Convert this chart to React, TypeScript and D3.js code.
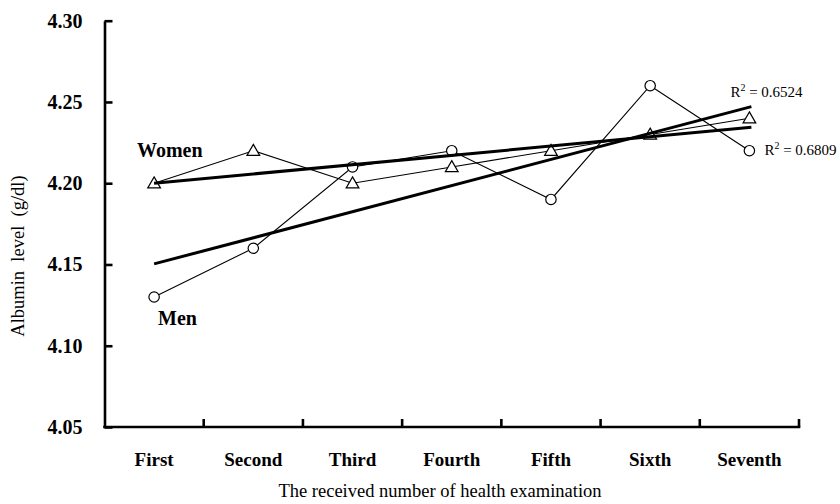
import React, { useEffect, useRef } from "react";
import * as d3 from "d3";

// examination rounds
const categories = ["First", "Second", "Third", "Fourth", "Fifth", "Sixth", "Seventh"];

// mean albumin level (g/dl)
const menValues = [4.13, 4.16, 4.21, 4.22, 4.19, 4.26, 4.22];
const womenValues = [4.2, 4.22, 4.2, 4.21, 4.22, 4.23, 4.24];

const yTicks = [4.05, 4.1, 4.15, 4.2, 4.25, 4.3];

const menR2 = "0.6524";
const womenR2 = "0.6809";

const FONT = "'Liberation Serif', 'Times New Roman', serif";

// least squares fit over the category index (1..n)
const fitLine = (values: number[]) => {
  const xs = values.map((_, i) => i + 1);
  const mx = d3.mean(xs) as number;
  const my = d3.mean(values) as number;
  const sxy = d3.sum(xs, (x, i) => (x - mx) * (values[i] - my));
  const sxx = d3.sum(xs, (x) => (x - mx) * (x - mx));
  const slope = sxy / sxx;
  return (x: number) => my + slope * (x - mx);
};

const Chart = () => {
  const svgRef = useRef<SVGSVGElement>(null);

  useEffect(() => {
    const svg = d3.select(svgRef.current);
    svg.selectAll("*").remove();

    const left = 104.5;
    const right = 799;
    const top = 20.7;
    const bottom = 427;

    const x = d3.scaleBand().domain(categories).range([left, right]).padding(0);
    const cx = (c: string) => (x(c) as number) + x.bandwidth() / 2;
    const y = d3.scaleLinear().domain([4.05, 4.3]).range([bottom, top]);

    // y axis
    const yAxis = svg
      .append("g")
      .attr("transform", `translate(${left},0)`)
      .call(
        d3
          .axisLeft(y)
          .tickValues(yTicks)
          .tickSizeInner(-8)
          .tickSizeOuter(0)
          .tickPadding(22)
          .tickFormat(d3.format(".2f"))
      );
    yAxis.select(".domain").attr("stroke", "#000").attr("stroke-width", 2.6);
    yAxis.selectAll(".tick line").attr("stroke", "#000").attr("stroke-width", 2.6);
    yAxis
      .selectAll(".tick text")
      .attr("font-family", FONT)
      .attr("font-weight", "bold")
      .attr("font-size", 20)
      .attr("fill", "#000");

    // x axis: labels centred in bands, ticks on band boundaries
    const xAxis = svg
      .append("g")
      .attr("transform", `translate(0,${bottom})`)
      .call(d3.axisBottom(x).tickSize(0).tickPadding(26));
    xAxis.select(".domain").remove();
    xAxis
      .selectAll(".tick text")
      .attr("font-family", FONT)
      .attr("font-weight", "bold")
      .attr("font-size", 19)
      .attr("fill", "#000");

    svg
      .append("line")
      .attr("x1", left - 1.3)
      .attr("x2", right + 1.3)
      .attr("y1", bottom)
      .attr("y2", bottom)
      .attr("stroke", "#000")
      .attr("stroke-width", 2.6);

    svg
      .append("g")
      .selectAll("line")
      .data(categories)
      .join("line")
      .attr("x1", (d) => (x(d) as number) + x.bandwidth())
      .attr("x2", (d) => (x(d) as number) + x.bandwidth())
      .attr("y1", bottom)
      .attr("y2", bottom - 8)
      .attr("stroke", "#000")
      .attr("stroke-width", 2.6);

    // axis titles
    svg
      .append("text")
      .attr("x", 440)
      .attr("y", 497)
      .attr("text-anchor", "middle")
      .attr("font-family", FONT)
      .attr("font-size", 18.5)
      .text("The received number of health examination");

    svg
      .append("text")
      .attr("transform", "translate(24,256) rotate(-90)")
      .attr("text-anchor", "middle")
      .attr("font-family", FONT)
      .attr("font-size", 18.5)
      .attr("xml:space", "preserve")
      .style("white-space", "pre")
      .text("Albumin  level  (g/dl)");

    const line = d3
      .line<number>()
      .x((_, i) => cx(categories[i]))
      .y((d) => y(d));

    // data lines
    [menValues, womenValues].forEach((vals) => {
      svg
        .append("path")
        .datum(vals)
        .attr("fill", "none")
        .attr("stroke", "#000")
        .attr("stroke-width", 1.1)
        .attr("d", line);
    });

    // men markers: open circles
    svg
      .append("g")
      .selectAll("circle")
      .data(menValues)
      .join("circle")
      .attr("cx", (_, i) => cx(categories[i]))
      .attr("cy", (d) => y(d))
      .attr("r", 5.2)
      .attr("fill", "#fff")
      .attr("stroke", "#000")
      .attr("stroke-width", 1.2);

    // women markers: open triangles
    const tri = d3.symbol().type(d3.symbolTriangle).size(70);
    svg
      .append("g")
      .selectAll("path")
      .data(womenValues)
      .join("path")
      .attr("transform", (d, i) => `translate(${cx(categories[i])},${y(d) + 1})`)
      .attr("d", tri)
      .attr("fill", "#fff")
      .attr("stroke", "#000")
      .attr("stroke-width", 1.2);

    // linear trend lines
    const first = cx(categories[0]);
    const last = cx(categories[categories.length - 1]) + 2;
    const n = categories.length;
    const trends = [fitLine(menValues), fitLine(womenValues)];
    trends.forEach((f) => {
      svg
        .append("line")
        .attr("x1", first)
        .attr("x2", last)
        .attr("y1", y(f(1)))
        .attr("y2", y(f(n + 2 / x.bandwidth())))
        .attr("stroke", "#000")
        .attr("stroke-width", 3);
    });

    // series labels
    svg
      .append("text")
      .attr("x", 137)
      .attr("y", y(4.2) - 26)
      .attr("font-family", FONT)
      .attr("font-weight", "bold")
      .attr("font-size", 20)
      .text("Women");
    svg
      .append("text")
      .attr("x", 158)
      .attr("y", y(4.13) + 28)
      .attr("font-family", FONT)
      .attr("font-weight", "bold")
      .attr("font-size", 20)
      .text("Men");

    // R squared labels
    const r2Label = (tx: number, ty: number, value: string) => {
      const t = svg
        .append("text")
        .attr("x", tx)
        .attr("y", ty)
        .attr("font-family", FONT)
        .attr("font-size", 15);
      t.append("tspan").text("R");
      t.append("tspan").attr("dy", -6).attr("font-size", 10).text("2");
      t.append("tspan").attr("dy", 6).text(` = ${value}`);
    };
    r2Label(cx("Seventh") - 19, y(trends[0](n)) - 10, menR2);
    r2Label(cx("Seventh") + 15, y(trends[1](n)) + 28, womenR2);
  }, []);

  return (
    <svg
      ref={svgRef}
      width={840}
      height={504}
      style={{ position: "absolute", left: 0, top: 0, background: "#fff" }}
    ></svg>
  );
};

export default function App() {
  return <Chart />;
}
